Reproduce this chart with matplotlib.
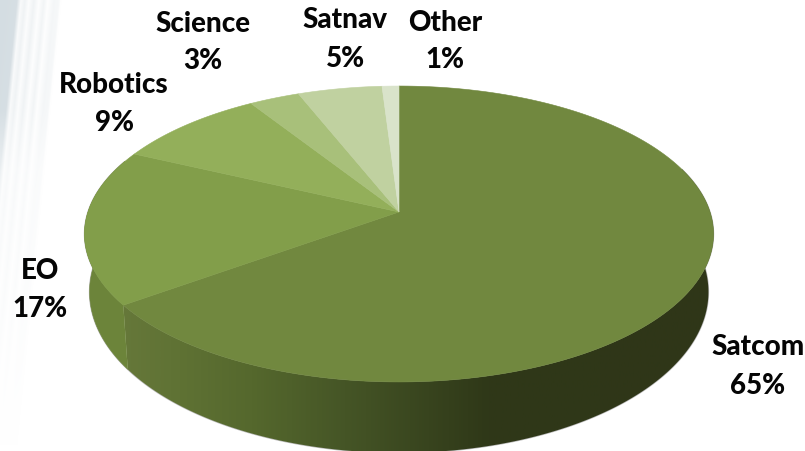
import numpy as np
import matplotlib
matplotlib.use("Agg")
import matplotlib.pyplot as plt
from matplotlib.colors import LinearSegmentedColormap
from matplotlib.patches import Polygon

names = ["Satcom", "EO", "Robotics", "Science", "Satnav", "Other"]
shares = [65, 17, 9, 3, 5, 1]
slice_colors = ["#71883f", "#829e4a", "#93af5a", "#a8c07a", "#c0d1a0", "#d9e3ca"]

# centre of each label, name line then value line
label_xy = [(758, 347, 386), (40, 271, 309), (114, 85, 123),
            (203, 24, 61), (345, 20, 59), (445, 23, 60)]

W, H = 805, 451
TILT = 0.1486  # perspective: far side of the disc is drawn smaller


def rim(frac, cy, a, b, cx=399):
    ang = 2 * np.pi * np.asarray(frac)
    d = 1 + TILT * np.cos(ang)
    return cx + a * np.sin(ang) / d, cy - b * np.cos(ang) / d


def top_rim(frac):
    return rim(frac, 212, 311, 144.7)


def bottom_rim(frac):
    return rim(frac, 268, 306, 157.4)


def side_outline(f0, f1):
    fr = np.linspace(f0, f1, 200)
    xt, yt = top_rim(fr)
    xb, yb = bottom_rim(fr[::-1])
    return np.column_stack([np.r_[xt, xb], np.r_[yt, yb]])


fig = plt.figure(figsize=(W / 100, H / 100), dpi=100)
ax = fig.add_axes([0, 0, 1, 1])

# pale streaked backdrop down the left edge
xx, yy = np.meshgrid(np.arange(W) + 0.5, np.arange(H) + 0.5)
s = xx + 0.1 * yy
stripes = np.interp(s, [0, 17, 21, 25, 29, 34, 39, 44, 48, 54, 59, 61],
                    [1, .95, .15, .35, .08, .35, .05, .3, .04, .25, .2, 0])
fade = np.interp(yy, [0, 110, 170, 300, 445], [1, 1, .5, .3, 0])
shade = np.array([212, 221, 226]) / 255
back = 1 - stripes[..., None] * fade[..., None] * (1 - shade)
ax.imshow(back, extent=(0, W, H, 0), aspect="auto", zorder=0)

# rim of the disc
side_cmap = LinearSegmentedColormap.from_list(
    "side", [(0, "#66783a"), (0.1, "#5f7234"), (0.22, "#55682d"), (0.38, "#455526"),
             (0.52, "#38441e"), (0.62, "#2f3818"), (1, "#2f3618")])
ramp = np.linspace(0, 1, 512)[None, :]
fractions = np.array(shares) / 100
ends = np.cumsum(fractions)
starts = ends - fractions

ax.add_patch(Polygon(side_outline(0.2, 0.81), closed=True, fill=False, ec="#8d8d8d",
                     lw=1.0, alpha=0.6, zorder=1))
grad = ax.imshow(ramp, cmap=side_cmap, extent=(120, 713, H, 0), aspect="auto", zorder=2)
satcom_side = Polygon(side_outline(0.2, ends[0]), closed=True, transform=ax.transData)
grad.set_clip_path(satcom_side)
ax.add_patch(Polygon(side_outline(ends[0], 0.81), closed=True, fc="#6c843a", ec="#6c843a",
                     lw=0.3, zorder=2))

# top face
for f0, f1, col in zip(starts, ends, slice_colors):
    fr = np.linspace(f0, f1, max(int((f1 - f0) * 400), 4))
    x, y = top_rim(fr)
    ax.fill(np.r_[399, x], np.r_[212, y], fc=col, ec=col, lw=0.4, zorder=3)

for name, share, (lx, y1, y2) in zip(names, shares, label_xy):
    for txt, ly in ((name, y1), (f"{share}%", y2)):
        ax.text(lx, ly, txt, ha="center", va="center", fontsize=20, fontweight="black",
                family=["Lato", "Liberation Sans"], color="#050505", zorder=5)

ax.set_xlim(0, W)
ax.set_ylim(H, 0)
ax.axis("off")
fig.savefig("out.png", dpi=100)
